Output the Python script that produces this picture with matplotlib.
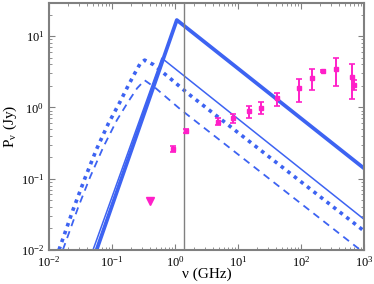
import matplotlib
matplotlib.use("Agg")
import matplotlib.pyplot as plt
import numpy as np

plt.rcParams['font.family'] = ['Liberation Serif', 'DejaVu Serif']
plt.rcParams['mathtext.fontset'] = 'stix'

# model curves (GHz, Jy)
thick_x = [0.057, 1.07, 1000]
thick_y = [0.01, 16.8, 0.14]

thin_x = [0.05, 0.62, 1000]
thin_y = [0.01, 4.9, 0.027]

dotted_x = [0.0144, 0.0243, 0.037, 0.057, 0.0874, 0.134, 0.18, 0.23, 0.28, 0.33, 0.45, 0.83, 1.6, 1000]
dotted_y = [0.01, 0.0374, 0.1, 0.26, 0.59, 1.19, 2.0, 3.0, 4.1, 4.6, 4.0, 2.57, 1.57, 0.0185]

dashed_x = [0.0166, 0.029, 0.0447, 0.0727, 0.119, 0.18, 0.25, 0.33, 0.48, 1.2, 875]
dashed_y = [0.01, 0.0394, 0.104, 0.276, 0.656, 1.19, 1.85, 2.4, 1.9, 0.95, 0.01]

# measured flux densities
obs_x = [0.93, 1.5, 4.8, 8.3, 15, 23, 42, 94, 148, 224, 360, 650, 690]
obs_y = [0.26, 0.46, 0.62, 0.70, 0.88, 0.97, 1.34, 1.85, 2.56, 3.2, 3.5, 2.65, 2.04]
obs_lo = [0.24, 0.43, 0.56, 0.60, 0.72, 0.82, 1.03, 1.20, 1.73, 3.1, 2.0, 1.3, 1.74]
obs_hi = [0.29, 0.50, 0.72, 0.82, 1.03, 1.18, 1.60, 2.50, 3.40, 3.3, 4.9, 4.0, 2.40]

# upper limit
lim_x = [0.40]
lim_y = [0.048]

nu_line = 1.39

blue = '#3d63f2'
pink = '#ff1fc8'
grey = '#808080'

fig = plt.figure(figsize=(3.74, 2.84), dpi=100)
ax = fig.add_axes([0.131, 0.12, 0.842, 0.869])

ax.plot(thick_x, thick_y, '-', color=blue, lw=2.7)
ax.plot(thin_x, thin_y, '-', color=blue, lw=1.1)
ax.plot(dotted_x, dotted_y, color=blue, lw=2.6, linestyle=(0, (1, 1.3)))
ax.plot(dashed_x, dashed_y, color=blue, lw=1.3, linestyle=(0, (4, 3)))

ax.axvline(nu_line, color=grey, lw=1.0)

yerr = [np.array(obs_y) - np.array(obs_lo), np.array(obs_hi) - np.array(obs_y)]
ax.errorbar(obs_x, obs_y, yerr=yerr, fmt='s', color=pink, ms=2.6, lw=1.4,
            capsize=2, capthick=1.2)
ax.plot(lim_x, lim_y, 'v', color=pink, ms=6)

ax.set_xscale('log')
ax.set_yscale('log')
ax.set_xlim(1e-2, 1e3)
ax.set_ylim(1e-2, 29)

ax.set_xlabel('ν (GHz)', fontsize=11, labelpad=-1)
ax.set_ylabel(r'P$_\mathregular{ν}$ (Jy)', fontsize=11, labelpad=1)

ax.tick_params(which='both', direction='in', top=True, right=True,
               color=grey, labelsize=9)
ax.tick_params(which='major', length=4, width=0.8)
ax.tick_params(which='minor', length=2, width=0.6)
ax.xaxis.set_major_locator(matplotlib.ticker.LogLocator(base=10, numticks=10))
ax.xaxis.set_minor_locator(matplotlib.ticker.LogLocator(base=10, subs=np.arange(2, 10), numticks=20))
ax.yaxis.set_minor_locator(matplotlib.ticker.LogLocator(base=10, subs=np.arange(2, 10), numticks=20))
for s in ax.spines.values():
    s.set_color(grey)
    s.set_linewidth(1.5)

fig.savefig('out.png', dpi=100)
